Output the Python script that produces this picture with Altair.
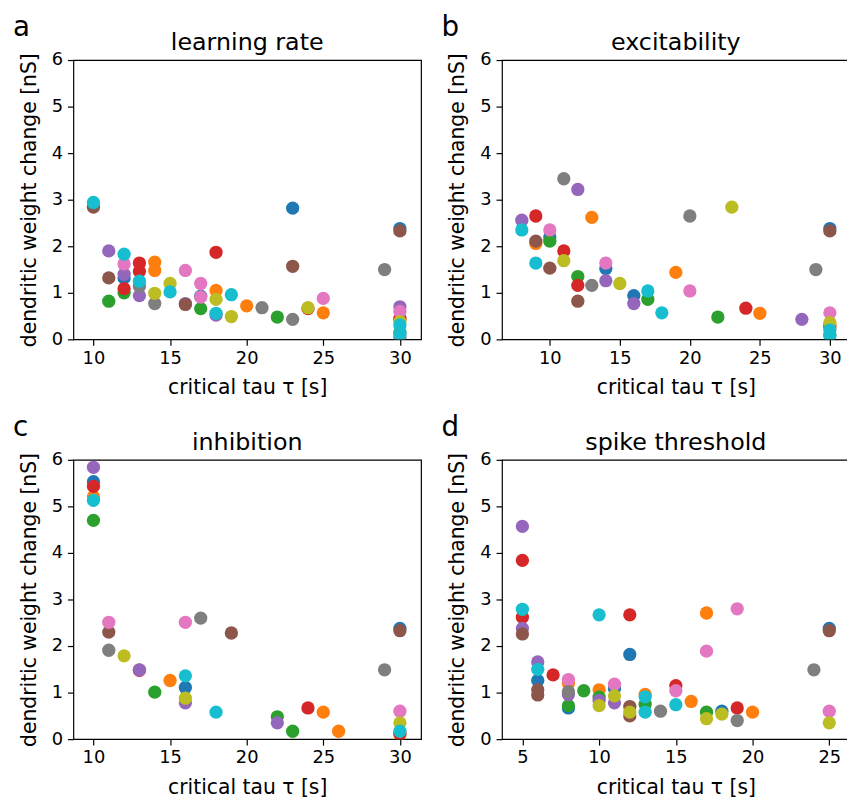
import altair as alt
import pandas as pd

FONT = "DejaVu Sans"
TAB10 = ["#1f77b4", "#ff7f0e", "#2ca02c", "#d62728", "#9467bd",
         "#8c564b", "#e377c2", "#7f7f7f", "#bcbd22", "#17becf"]

# ---- panel a: learning rate ----
A_TAU = [12, 17, 23, 30,
         14, 14, 18, 20, 25, 30,
         11, 12, 17, 22, 30,
         12, 13, 13, 18, 24, 30,
         11, 12, 13, 16, 18, 30,
         10, 11, 16, 23, 30,
         12, 16, 17, 17, 25, 30,
         13, 14, 21, 23, 29, 30,
         14, 15, 18, 19, 24, 30,
         10, 12, 13, 15, 18, 19, 30, 30]
A_DW = [1.32, 0.93, 2.82, 2.38,
        1.66, 1.48, 1.05, 0.72, 0.57, 0.42,
        0.82, 1.00, 0.66, 0.48, 0.15,
        1.09, 1.64, 1.46, 1.87, 0.66, 0.45,
        1.90, 1.40, 0.94, 0.77, 0.52, 0.70,
        2.84, 1.32, 0.75, 1.57, 2.33,
        1.62, 1.48, 1.20, 0.91, 0.88, 0.60,
        1.14, 0.77, 0.68, 0.43, 1.50, 0.05,
        0.99, 1.20, 0.86, 0.49, 0.68, 0.38,
        2.94, 1.83, 1.25, 1.02, 0.56, 0.96, 0.31, 0.11]
A_SER = [0] * 4 + [1] * 6 + [2] * 5 + [3] * 6 + [4] * 6 + [5] * 5 + [6] * 6 + [7] * 6 + [8] * 6 + [9] * 8

# ---- panel b: excitability ----
B_TAU = [10, 14, 16, 30,
         9, 13, 19, 25, 30,
         10, 12, 17, 22, 30,
         9, 11, 12, 24, 30,
         8, 12, 14, 16, 28,
         9, 10, 12, 30,
         10, 14, 20, 30,
         11, 13, 20, 29,
         11, 15, 23, 30,
         8, 9, 17, 18, 30, 30]
B_DW = [2.20, 1.52, 0.94, 2.38,
        2.06, 2.62, 1.44, 0.56, 0.25,
        2.11, 1.35, 0.86, 0.48, 0.10,
        2.65, 1.90, 1.16, 0.67, 0.30,
        2.56, 3.22, 1.26, 0.77, 0.43,
        2.11, 1.53, 0.82, 2.33,
        2.35, 1.64, 1.04, 0.57,
        3.45, 1.16, 2.65, 1.50,
        1.69, 1.20, 2.84, 0.36,
        2.35, 1.64, 1.04, 0.57, 0.20, 0.08]
B_SER = [0] * 4 + [1] * 5 + [2] * 5 + [3] * 5 + [4] * 5 + [5] * 4 + [6] * 4 + [7] * 4 + [8] * 4 + [9] * 6

# ---- panel c: inhibition ----
C_TAU = [10, 16, 30,
         10, 15, 25, 26, 30,
         10, 14, 22, 23,
         10, 13, 24, 30,
         10, 13, 16, 22,
         11, 19, 30,
         11, 16, 30,
         11, 17, 29,
         12, 16, 30,
         10, 16, 18, 30]
C_DW = [5.53, 1.11, 2.38,
        5.21, 1.26, 0.58, 0.17, 0.10,
        4.70, 1.01, 0.48, 0.17,
        5.43, 1.48, 0.67, 0.12,
        5.84, 1.49, 0.78, 0.35,
        2.30, 2.28, 2.33,
        2.51, 2.51, 0.60,
        1.91, 2.60, 1.49,
        1.79, 0.88, 0.35,
        5.13, 1.36, 0.58, 0.17]
C_SER = [0] * 3 + [1] * 5 + [2] * 4 + [3] * 4 + [4] * 4 + [5] * 3 + [6] * 3 + [7] * 3 + [8] * 3 + [9] * 4

# ---- panel d: spike threshold ----
D_TAU = [6, 8, 11, 12, 18, 25,
         8, 10, 13, 16, 17, 20,
         8, 9, 10, 13, 17,
         5, 5, 7, 12, 15, 19,
         5, 5, 6, 8, 10, 11,
         5, 6, 6, 12, 12, 25,
         8, 11, 15, 17, 19, 25,
         8, 14, 19, 24,
         10, 11, 12, 17, 18, 25,
         5, 6, 10, 13, 13, 15]
D_DW = [1.26, 0.67, 1.09, 1.82, 0.60, 2.38,
        1.20, 1.06, 0.96, 0.81, 2.71, 0.58,
        0.72, 1.04, 0.90, 0.75, 0.58,
        3.84, 2.62, 1.38, 2.67, 1.15, 0.67,
        4.57, 2.38, 1.66, 0.96, 0.83, 0.78,
        2.26, 1.06, 0.95, 0.70, 0.50, 2.33,
        1.28, 1.18, 1.04, 1.89, 2.80, 0.60,
        1.02, 0.60, 0.40, 1.49,
        0.72, 0.93, 0.58, 0.44, 0.54, 0.35,
        2.79, 1.50, 2.67, 0.91, 0.58, 0.74]
D_SER = [0] * 6 + [1] * 6 + [2] * 5 + [3] * 6 + [4] * 6 + [5] * 6 + [6] * 6 + [7] * 4 + [8] * 6 + [9] * 6

TITLES = ["learning rate", "excitability", "inhibition", "spike threshold"]
LETTERS = ["a", "b", "c", "d"]
X_TICKS_AC = [10, 15, 20, 25, 30]
X_TICKS_B = [10, 15, 20, 25, 30]
X_TICKS_D = [5, 10, 15, 20, 25]
Y_TICKS = [0, 1, 2, 3, 4, 5, 6]

W, H = 351, 282


def panel(tau, dw, ser, title, letter, ticks, domain):
    df = pd.DataFrame({"tau": tau, "dw": dw, "series": ser})
    pts = alt.Chart(df).mark_circle(size=180, opacity=1, clip=True).encode(
        x=alt.X("tau:Q",
                scale=alt.Scale(domain=domain, nice=False, zero=False),
                axis=alt.Axis(values=ticks, title="critical tau τ [s]",
                              labelPadding=4, titlePadding=11)),
        y=alt.Y("dw:Q",
                scale=alt.Scale(domain=[0, 6], nice=False),
                axis=alt.Axis(values=Y_TICKS, title="dendritic weight change [nS]",
                              labelPadding=5, titlePadding=12)),
        color=alt.Color("series:N",
                        scale=alt.Scale(domain=list(range(10)), range=TAB10),
                        legend=None),
    )
    lab = alt.Chart(pd.DataFrame({"t": [letter]})).mark_text(
        align="left", baseline="alphabetic", fontSize=28, font=FONT, color="black"
    ).encode(text="t:N", x=alt.value(-61), y=alt.value(-24))
    ttl = alt.Chart(pd.DataFrame({"t": [title]})).mark_text(
        align="center", baseline="alphabetic", fontSize=24, font=FONT, color="black"
    ).encode(text="t:N", x=alt.value(W / 2), y=alt.value(-10))
    return alt.layer(pts, lab, ttl).properties(width=W, height=H)


pa = panel(A_TAU, A_DW, A_SER, TITLES[0], LETTERS[0], X_TICKS_AC, [8.69, 31.38])
pb = panel(B_TAU, B_DW, B_SER, TITLES[1], LETTERS[1], X_TICKS_B, [6.585, 31.415])
pc = panel(C_TAU, C_DW, C_SER, TITLES[2], LETTERS[2], X_TICKS_AC, [8.69, 31.38])
pd_ = panel(D_TAU, D_DW, D_SER, TITLES[3], LETTERS[3], X_TICKS_D, [3.67, 26.33])

chart = alt.concat(pa, pb, pc, pd_, columns=2, bounds="flush",
                   spacing={"row": 121.6, "column": 81.7}).properties(
    autosize=alt.AutoSizeParams(type="none"),
    padding={"left": 66, "top": 48.7, "right": 781, "bottom": 755.3},
).configure(background="white").configure_view(
    stroke="black", strokeWidth=1.2
).configure_axis(
    domain=False, grid=False, ticks=True, tickSize=6, tickColor="black", tickWidth=1.2,
    labelColor="black", titleColor="black", labelFont=FONT, titleFont=FONT,
    labelFontSize=18, titleFontSize=20.5, titleFontWeight="normal",
)

chart.save("out.html", embed_options={"renderer": "svg", "actions": False})
